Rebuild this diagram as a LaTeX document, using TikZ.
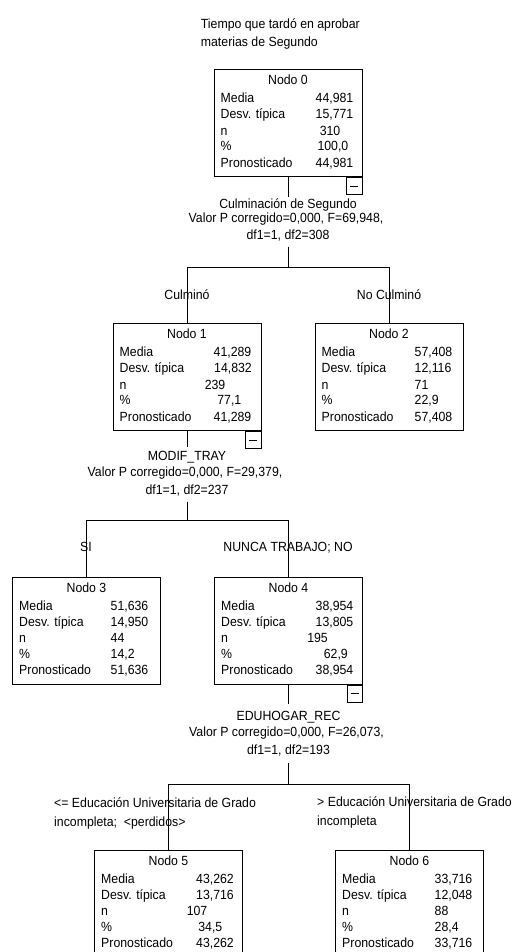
\documentclass[tikz,border=0pt]{standalone}
\usepackage{fontspec}
\setmainfont[FakeStretch=0.925]{Liberation Sans}
\usetikzlibrary{calc}
\newcommand\spssnode[4]{%
  \node[box] (#1) at (#2,#3) {};
  \node[txt,anchor=base] (#1t) at ($(#1.north)+(0,15.8)$) {#4};
  \node[txt,anchor=base west] (#1la) at ($(#1.north west)+(7,33.8)$) {Media};
  \node[txt,anchor=base west] (#1lb) at ($(#1.north west)+(7,49.8)$) {Desv. típica};
  \node[txt,anchor=base west] (#1lc) at ($(#1.north west)+(7,66.3)$) {n};
  \node[txt,anchor=base west] (#1ld) at ($(#1.north west)+(7,81.8)$) {\%};
  \node[txt,anchor=base west] (#1le) at ($(#1.north west)+(7,98.3)$) {Pronosticado};
}
\newcommand\spssval[6]{%
  \node[txt,anchor=base #4] (#1v#2) at ($(#1.north west)+(#5,#3)$) {#6};
}
\newcommand\minusmark[1]{%
  \node[minusbox] (#1m) at (#1.south east) {};
  \draw[conn] ($(#1m.center)+(-4.2,0)$) -- ($(#1m.center)+(4.2,0)$);
}
\begin{document}
\begin{tikzpicture}[x=1pt,y=-1pt,
  txt/.style={inner sep=0pt, font=\fontsize{13.3}{16}\selectfont},
  box/.style={draw, line width=1pt, anchor=north, minimum width=148pt, minimum height=107pt, inner sep=0pt},
  conn/.style={line width=1pt},
  minusbox/.style={draw, line width=1pt, anchor=north east, minimum width=15.5pt, minimum height=17pt, inner sep=0pt}]
\fill[white] (0,0) rectangle (514,952);
\useasboundingbox (0,0) rectangle (514,952);
\clip (0,0) rectangle (514,952);

% title
\node[txt,anchor=base west] (title1) at (200.7,28.8) {Tiempo que tardó en aprobar};
\node[txt,anchor=base west] (title2) at (200.7,46.8) {materias de Segundo};

% nodes
\spssnode{n0}{288}{69}{Nodo 0}
\spssval{n0}{a}{33.8}{east}{140}{44,981}
\spssval{n0}{b}{49.8}{east}{140}{15,771}
\spssval{n0}{c}{66.3}{east}{127}{310}
\spssval{n0}{d}{81.8}{east}{135}{100,0}
\spssval{n0}{e}{98.3}{east}{140}{44,981}
\minusmark{n0}

\spssnode{n1}{187}{323}{Nodo 1}
\spssval{n1}{a}{33.8}{east}{139}{41,289}
\spssval{n1}{b}{49.8}{east}{139.5}{14,832}
\spssval{n1}{c}{66.3}{east}{113}{239}
\spssval{n1}{d}{81.8}{east}{129}{77,1}
\spssval{n1}{e}{98.3}{east}{139}{41,289}
\minusmark{n1}

\spssnode{n2}{389}{323}{Nodo 2}
\spssval{n2}{a}{33.8}{west}{100}{57,408}
\spssval{n2}{b}{49.8}{west}{100}{12,116}
\spssval{n2}{c}{66.3}{west}{100}{71}
\spssval{n2}{d}{81.8}{west}{100}{22,9}
\spssval{n2}{e}{98.3}{west}{100}{57,408}

\spssnode{n3}{86.5}{576.5}{Nodo 3}
\spssval{n3}{a}{33.8}{west}{98.5}{51,636}
\spssval{n3}{b}{49.8}{west}{98.5}{14,950}
\spssval{n3}{c}{66.3}{west}{98.5}{44}
\spssval{n3}{d}{81.8}{west}{98.5}{14,2}
\spssval{n3}{e}{98.3}{west}{98.5}{51,636}

\spssnode{n4}{288.5}{576.5}{Nodo 4}
\spssval{n4}{a}{33.8}{east}{139.5}{38,954}
\spssval{n4}{b}{49.8}{east}{139.5}{13,805}
\spssval{n4}{c}{66.3}{east}{114}{195}
\spssval{n4}{d}{81.8}{east}{134}{62,9}
\spssval{n4}{e}{98.3}{east}{139.5}{38,954}
\minusmark{n4}

\spssnode{n5}{168.5}{849.5}{Nodo 5}
\spssval{n5}{a}{33.8}{east}{140}{43,262}
\spssval{n5}{b}{49.8}{east}{140}{13,716}
\spssval{n5}{c}{66.3}{east}{113.5}{107}
\spssval{n5}{d}{81.8}{east}{128.5}{34,5}
\spssval{n5}{e}{98.3}{east}{140}{43,262}

\spssnode{n6}{409.5}{849.5}{Nodo 6}
\spssval{n6}{a}{33.8}{west}{99.5}{33,716}
\spssval{n6}{b}{49.8}{west}{99.5}{12,048}
\spssval{n6}{c}{66.3}{west}{99.5}{88}
\spssval{n6}{d}{81.8}{west}{99.5}{28,4}
\spssval{n6}{e}{98.3}{west}{99.5}{33,716}

% split 1
\coordinate (s1top) at (288,196.5);
\coordinate (s1bot) at (288,246.5);
\coordinate (s1h) at (288,267.3);
\draw[conn] (n0.south) -- (s1top);
\draw[conn] (s1bot) -- (s1h);
\draw[conn] (n1.north) |- (s1h) -| (n2.north);
\node[txt,anchor=base] (s1a) at (288,208.1) {Culminación de Segundo};
\node[txt,anchor=base] (s1b) at (286,222.8) {Valor P corregido=0,000, F=69,948,};
\node[txt,anchor=base] (s1c) at (288,239.8) {df1=1, df2=308};
\node[txt,anchor=base] (c1) at (187,299.8) {Culminó};
\node[txt,anchor=base] (c2) at (389,299.8) {No Culminó};

% split 2
\coordinate (s2top) at (187,446.7);
\coordinate (s2bot) at (187,501.7);
\coordinate (s2h) at (187,520.7);
\draw[conn] (n1.south) -- (s2top);
\draw[conn] (s2bot) -- (s2h);
\draw[conn] (n3.north) |- (s2h) -| (n4.north);
\node[txt,anchor=base] (s2a) at (187,460.8) {MODIF\_TRAY};
\node[txt,anchor=base] (s2b) at (185,476.8) {Valor P corregido=0,000, F=29,379,};
\node[txt,anchor=base] (s2c) at (187,494.8) {df1=1, df2=237};
\node[txt,anchor=base] (c3) at (86,551.8) {SI};
\node[txt,anchor=base] (c4) at (288,551.8) {NUNCA TRABAJO; NO};

% split 3
\coordinate (s3top) at (288.5,704);
\coordinate (s3bot) at (288.5,763);
\coordinate (s3h) at (288.5,784.3);
\draw[conn] (n4.south) -- (s3top);
\draw[conn] (s3bot) -- (s3h);
\draw[conn] (n5.north) |- (s3h) -| (n6.north);
\node[txt,anchor=base] (s3a) at (288.5,720.8) {EDUHOGAR\_REC};
\node[txt,anchor=base] (s3b) at (286.5,736.8) {Valor P corregido=0,000, F=26,073,};
\node[txt,anchor=base] (s3c) at (288.5,754.8) {df1=1, df2=193};
\node[txt,anchor=base west] (c5a) at (54,807.3) {<= Educación Universitaria de Grado};
\node[txt,anchor=base west] (c5b) at (54,826.3) {incompleta;~~<perdidos>};
\node[txt,anchor=base west] (c6a) at (317,806.3) {> Educación Universitaria de Grado};
\node[txt,anchor=base west] (c6b) at (317,825.3) {incompleta};
\end{tikzpicture}
\end{document}
